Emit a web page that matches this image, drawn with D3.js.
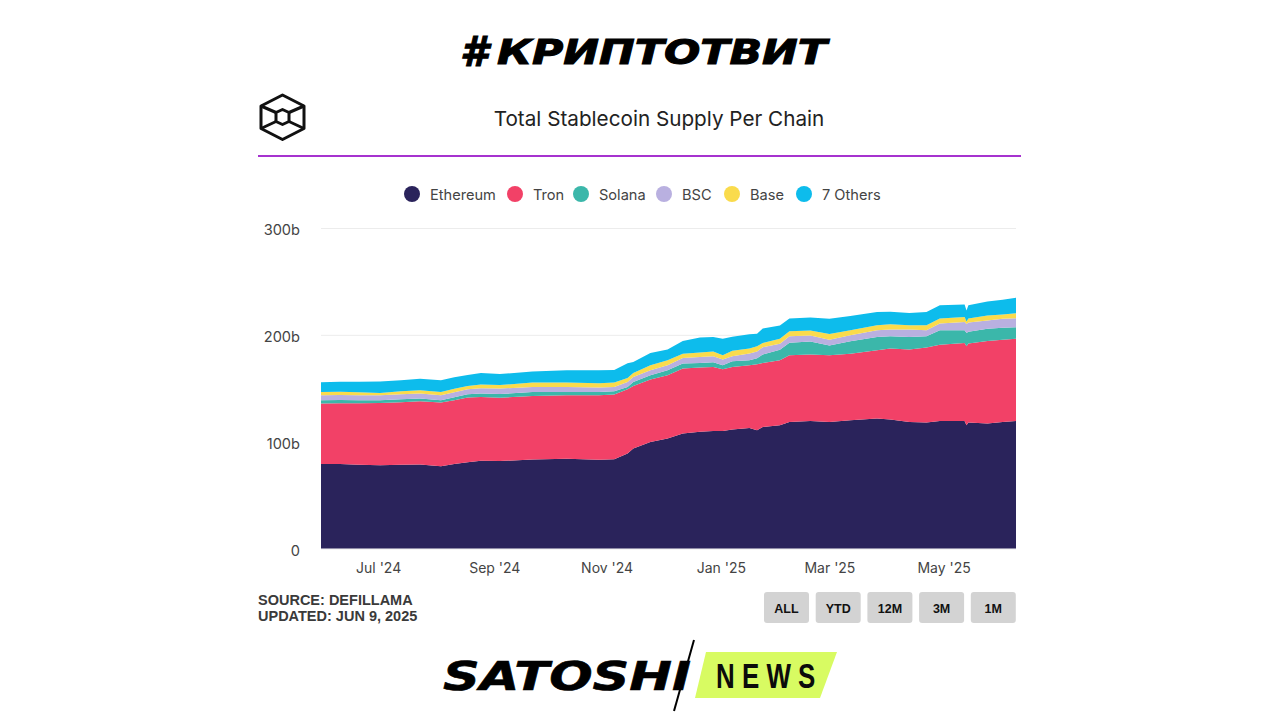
<!DOCTYPE html>
<html>
<head>
<meta charset="utf-8">
<script src="https://cdn.jsdelivr.net/npm/d3@7"></script>
<style>
    html, body { margin: 0; padding: 0; background: #fff; }
    svg { display: block; }
    text { font-family: Inter, "Noto Sans", sans-serif; }
</style>
</head>
<body>
<svg id="chart" width="1280" height="720"></svg>
<script>
// values in billions
const dates = ["2024-06-09","2024-06-19","2024-06-29","2024-07-10","2024-07-21","2024-07-31","2024-08-11","2024-08-18","2024-08-25","2024-09-01","2024-09-11","2024-09-28","2024-10-16","2024-11-02","2024-11-10","2024-11-17","2024-11-20","2024-11-29","2024-12-08","2024-12-16","2024-12-25","2025-01-01","2025-01-06","2025-01-11","2025-01-20","2025-01-24","2025-01-27","2025-02-05","2025-02-10","2025-02-21","2025-03-03","2025-03-14","2025-03-28","2025-04-04","2025-04-14","2025-04-23","2025-04-30","2025-05-13","2025-05-14","2025-05-15","2025-05-25","2025-06-02","2025-06-09"];
const ethereum = [79.0,79.0,78.5,78.0,78.4,78.7,77.1,79.0,80.8,82.1,81.8,83.4,83.9,83.0,83.6,89.0,93.6,99.8,103.0,107.7,109.2,110.1,110.1,111.4,112.9,110.7,113.8,115.4,118.5,119.4,118.5,120.1,121.7,120.8,118.5,118.0,119.4,119.4,115.4,118.0,117.0,118.5,119.4];
const tron = [56.7,57.0,57.5,58.2,58.5,59.2,59.5,59.8,60.5,59.8,59.3,59.4,59.5,60.5,60.5,60.1,58.5,58.3,59.2,60.7,60.2,59.8,57.7,58.6,58.6,61.7,59.8,60.7,62.3,62.3,62.3,62.3,63.9,66.4,67.7,70.1,71.4,72.9,73.8,74.0,77.2,77.0,77.0];
const solana = [3.1,3.1,2.8,2.5,2.8,2.5,2.1,2.8,3.1,3.2,3.5,3.7,3.1,3.1,3.1,2.1,3.7,4.0,4.7,4.7,4.3,4.4,3.7,5.3,4.7,5.6,8.0,10.0,11.9,12.1,9.3,11.5,12.4,11.5,11.8,10.6,13.4,11.9,12.6,10.8,11.5,11.2,10.8];
const bsc = [4.7,4.6,4.7,4.7,4.7,4.7,4.7,4.7,4.7,5.0,5.1,4.7,4.7,4.1,4.0,4.7,4.7,4.7,4.7,5.2,5.6,5.6,5.3,4.7,6.3,6.5,6.8,5.6,5.9,5.6,5.3,5.6,6.3,6.3,6.9,5.6,6.3,7.8,8.4,8.8,7.8,8.4,8.4];
const base = [3.1,3.1,2.8,2.1,2.8,3.1,3.1,3.3,3.1,3.5,3.3,4.1,4.1,4.0,4.1,3.7,3.7,4.7,4.7,4.1,4.1,4.4,4.0,5.0,4.7,4.7,4.0,4.7,4.7,4.7,5.3,4.7,4.7,5.0,4.0,4.7,4.7,4.7,2.3,3.7,4.7,4.0,4.7];
const others = [9.1,9.3,9.8,10.9,10.3,10.6,10.9,10.7,10.3,10.6,10.3,10.3,11.5,12.1,11.8,13.7,10.3,11.5,10.0,11.8,14.0,13.6,15.6,13.1,13.4,11.9,13.5,12.4,11.9,12.1,14.3,13.4,12.4,11.5,11.5,12.4,12.4,11.7,10.3,12.4,13.1,13.7,14.4];

const seriesNames = ["Ethereum","Tron","Solana","BSC","Base","7 Others"];
const seriesValues = [ethereum, tron, solana, bsc, base, others];
const seriesColors = ["#2a235b","#f24167","#3bb7aa","#b9b0e0","#fadb4c","#0dbcec"];
const legendX = [412, 515, 581, 664, 732, 804];

const yTicks = [0, 100, 200, 300];
const xTickDates = ["2024-07-09","2024-09-08","2024-11-06","2025-01-05","2025-03-03","2025-05-02"];
const buttonLabels = ["ALL","YTD","12M","3M","1M"];
const sourceLines = ["SOURCE: DEFILLAMA","UPDATED: JUN 9, 2025"];

const parseDate = d3.utcParse("%Y-%m-%d");
const svg = d3.select("#chart");

let margin = { top: 228, right: 264, bottom: 171.5, left: 321 };
let width = 1280 - margin.left - margin.right,
    height = 720 - margin.top - margin.bottom;

let x = d3.scaleUtc()
    .domain([parseDate("2024-06-09"), parseDate("2025-06-09")])
    .range([0, width]);

let y = d3.scaleLinear()
    .domain([0, 300])
    .range([height, 0]);

// banner
const banner = svg.append("text")
    .attr("y", 64)
    .style("font-family", "'DejaVu Sans'")
    .style("font-weight", 700).style("font-style", "italic")
    .attr("stroke", "#000").attr("stroke-width", 1)
    .attr("fill", "#000");
banner.append("tspan")
    .attr("x", 460).attr("y", 66)
    .attr("textLength", 28).attr("lengthAdjust", "spacingAndGlyphs")
    .style("font-size", "40px")
    .text("#");
banner.append("tspan")
    .attr("x", 497).attr("y", 64)
    .attr("textLength", 330).attr("lengthAdjust", "spacingAndGlyphs")
    .style("font-size", "34px")
    .text("КРИПТОТВИТ");

// logo
const logo = svg.append("g")
    .attr("fill", "none").attr("stroke", "#111").attr("stroke-width", 3)
    .attr("stroke-linejoin", "round");
logo.append("path").attr("d", "M282.5 95 L304 106 V128.5 L282.5 139.5 L261 128.5 V106 Z");
logo.append("path").attr("d", "M282.5 109.5 L289 112.5 V121.5 L282.5 124.5 L276 121.5 V112.5 Z");
logo.append("path").attr("d", "M261 106 L276 112.5 M304 106 L289 112.5 M261 128.5 L276 121.5 M304 128.5 L289 121.5");

svg.append("text")
    .attr("x", 659).attr("y", 126)
    .attr("text-anchor", "middle")
    .style("font-size", "20.7px")
    .attr("fill", "#222")
    .text("Total Stablecoin Supply Per Chain");

svg.append("line")
    .attr("x1", 258).attr("x2", 1021)
    .attr("y1", 156).attr("y2", 156)
    .attr("stroke", "#a632cf").attr("stroke-width", 2);

// legend
const legend = svg.selectAll(".legend")
    .data(seriesNames)
    .enter()
    .append("g")
    .attr("class", "legend")
    .attr("transform", (d, i) => "translate(" + legendX[i] + ",194)");
legend.append("circle")
    .attr("r", 8)
    .attr("fill", (d, i) => seriesColors[i]);
legend.append("text")
    .attr("x", 18).attr("y", 6)
    .style("font-size", "14.6px")
    .attr("fill", "#444")
    .text(d => d);

const plot = svg.append("g")
    .attr("transform", "translate(" + margin.left + "," + margin.top + ")");

// axes
const yAxis = plot.append("g")
    .call(d3.axisLeft(y)
        .tickValues(yTicks)
        .tickSize(-width)
        .tickPadding(21)
        .tickFormat(d => d === 0 ? "0" : d + "b"));
yAxis.select(".domain").remove();
yAxis.selectAll("line").attr("stroke", "#ececec");
yAxis.selectAll("text")
    .attr("y", 2)
    .attr("fill", "#444")
    .style("font-size", "14.6px");

const xAxis = plot.append("g")
    .attr("transform", "translate(0," + height + ")")
    .call(d3.axisBottom(x)
        .tickValues(xTickDates.map(parseDate))
        .tickSize(0)
        .tickPadding(15)
        .tickFormat(d3.utcFormat("%b '%y")));
xAxis.select(".domain").remove();
xAxis.selectAll("text")
    .attr("fill", "#444")
    .style("font-size", "14px");

// stacked areas
const rows = dates.map((d, i) => {
    let row = { date: parseDate(d) };
    seriesNames.forEach((name, s) => { row[name] = seriesValues[s][i]; });
    return row;
});
const stacked = d3.stack().keys(seriesNames)(rows);
const area = d3.area()
    .x(d => x(d.data.date))
    .y0(d => y(d[0]))
    .y1(d => y(d[1]));

plot.selectAll(".layer")
    .data(stacked)
    .enter()
    .append("path")
    .attr("class", "layer")
    .attr("d", area)
    .attr("fill", (d, i) => seriesColors[i]);

// source note
svg.selectAll(".source")
    .data(sourceLines)
    .enter()
    .append("text")
    .attr("class", "source")
    .attr("x", 258)
    .attr("y", (d, i) => 604.5 + i * 16.8)
    .style("font-family", "'Liberation Sans'")
    .style("font-weight", 700)
    .style("font-size", "14.5px")
    .attr("fill", "#3a3a3a")
    .text(d => d);

// range buttons
const buttons = svg.selectAll(".btn")
    .data(buttonLabels)
    .enter()
    .append("g")
    .attr("class", "btn")
    .attr("transform", (d, i) => "translate(" + (764 + i * 51.7) + ",592)");
buttons.append("rect")
    .attr("width", 45).attr("height", 31).attr("rx", 3)
    .attr("fill", "#d3d3d3");
buttons.append("text")
    .attr("x", 22.5).attr("y", 20.5)
    .attr("text-anchor", "middle")
    .style("font-family", "'Liberation Sans'")
    .style("font-weight", 700)
    .style("font-size", "12.5px")
    .attr("fill", "#111")
    .text(d => d);

// footer logo
svg.append("text")
    .attr("x", 443).attr("y", 690)
    .attr("textLength", 248).attr("lengthAdjust", "spacingAndGlyphs")
    .style("font-family", "'DejaVu Sans'")
    .style("font-weight", 700).style("font-style", "italic")
    .style("font-size", "39px")
    .attr("stroke", "#000").attr("stroke-width", 0.6)
    .attr("fill", "#000")
    .text("SATOSHI");

svg.append("line")
    .attr("x1", 694).attr("y1", 640)
    .attr("x2", 674).attr("y2", 711)
    .attr("stroke", "#000").attr("stroke-width", 2);

svg.append("path")
    .attr("d", "M706 652 H837 L820 698 H695 Z")
    .attr("fill", "#d8fb62");

svg.append("text")
    .attr("transform", "translate(716,688) scale(0.72,1)")
    .style("font-family", "'Liberation Sans'")
    .style("font-weight", 700)
    .style("font-size", "36px")
    .style("letter-spacing", "10px")
    .attr("fill", "#0b0b0b")
    .text("NEWS");
</script>
</body>
</html>
